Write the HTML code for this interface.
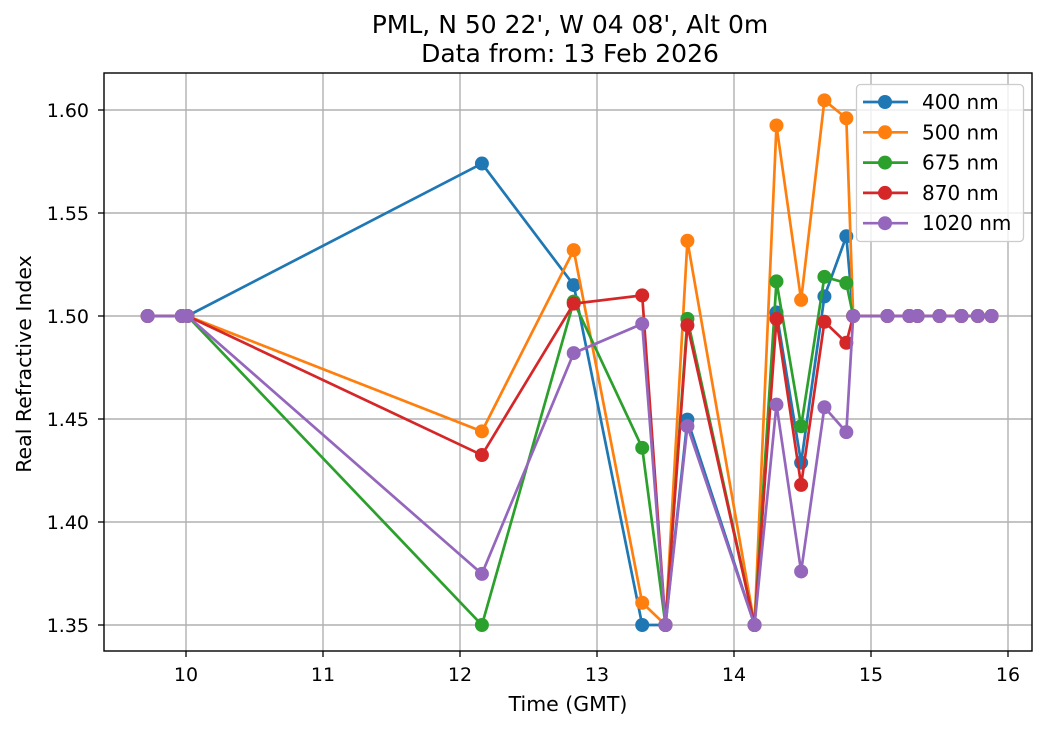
<!DOCTYPE html>
<html><head><meta charset="utf-8"><style>
body{margin:0;background:#fff;}
svg text{font-family:"DejaVu Sans","Liberation Sans",sans-serif;fill:#000;}
</style></head><body>
<svg id="chart" width="1049" height="729" xmlns="http://www.w3.org/2000/svg">
<rect width="1049" height="729" fill="#fff"/>
<text x="570" y="33" font-size="25" text-anchor="middle">PML, N 50 22', W 04 08', Alt 0m</text>
<text x="570" y="62" font-size="25" text-anchor="middle">Data from: 13 Feb 2026</text>
<g id="grid"></g><g id="series"></g><g id="axes"></g><g id="legend"></g>
<text x="568" y="711" font-size="20.5" text-anchor="middle">Time (GMT)</text>
<text transform="translate(31,364) rotate(-90)" font-size="20.5" text-anchor="middle">Real Refractive Index</text>
</svg>
<script>
const times = [9.72,9.97,10.01,12.16,12.83,13.33,13.50,13.66,14.15,14.31,14.49,14.66,14.82,14.87,15.12,15.28,15.34,15.50,15.66,15.78,15.88];
const tail = [1.5,1.5,1.5,1.5,1.5,1.5,1.5,1.5];
const s400  = [1.5,1.5,1.5,1.574,1.515,1.35,1.35,1.4497,1.35,1.5017,1.4288,1.5095,1.5387,...tail];
const s500  = [1.5,1.5,1.5,1.444,1.532,1.3608,1.35,1.5365,1.35,1.5925,1.5078,1.6047,1.596,...tail];
const s675  = [1.5,1.5,1.5,1.35,1.507,1.436,1.35,1.4986,1.35,1.5168,1.4465,1.519,1.516,...tail];
const s870  = [1.5,1.5,1.5,1.4325,1.506,1.510,1.35,1.4955,1.35,1.4986,1.418,1.4972,1.487,...tail];
const s1020 = [1.5,1.5,1.5,1.3748,1.482,1.4962,1.35,1.4465,1.35,1.457,1.376,1.4557,1.4436,...tail];
const seriesNames = ["400 nm","500 nm","675 nm","870 nm","1020 nm"];
const xTicks = [10,11,12,13,14,15,16];
const yTicks = [1.35,1.40,1.45,1.50,1.55,1.60];

const NS="http://www.w3.org/2000/svg";
const L=104,R=1032,T=73,B=651;
const X=h=>186+(h-10)*137;
const Y=v=>625-(v-1.35)/0.05*103;
function mk(tag,attrs,parent){const e=document.createElementNS(NS,tag);for(const k in attrs)e.setAttribute(k,attrs[k]);parent.appendChild(e);return e;}
const grid=document.getElementById('grid'),axes=document.getElementById('axes'),ser=document.getElementById('series'),leg=document.getElementById('legend');
xTicks.forEach(t=>{const x=X(t);
 const g=mk('line',{x1:x,x2:x,y1:T,y2:B,stroke:'#b0b0b0','stroke-width':1.4},grid);
 
 
 mk('line',{x1:x,x2:x,y1:B,y2:B+6,stroke:'#000','stroke-width':1.3},axes);
 const tx=mk('text',{x:x,y:B+30,'font-size':19,'text-anchor':'middle'},axes);tx.textContent=t;
 
 
});
yTicks.forEach(t=>{const y=Y(t);
 const g=mk('line',{x1:L,x2:R,y1:y,y2:y,stroke:'#b0b0b0','stroke-width':1.4},grid);
 
 
 mk('line',{x1:L-6,x2:L,y1:y,y2:y,stroke:'#000','stroke-width':1.3},axes);
 const tx=mk('text',{x:L-15,y:y+7,'font-size':19,'text-anchor':'end'},axes);tx.textContent=t.toFixed(2);
 
 
});
const frame=mk('rect',{x:L,y:T,width:R-L,height:B-T,fill:'none',stroke:'#000','stroke-width':1.4},axes);


const colors=['#1f77b4','#ff7f0e','#2ca02c','#d62728','#9467bd'];
[s400,s500,s675,s870,s1020].forEach((s,i)=>{
 const g=mk('g',{},ser);
 
 
 mk('polyline',{points:s.map((v,j)=>X(times[j])+','+Y(v)).join(' '),fill:'none',stroke:colors[i],'stroke-width':2.7},g);
 s.forEach((v,j)=>{const c=mk('circle',{cx:X(times[j]),cy:Y(v),r:7,fill:colors[i]},g);
  
  });
});
const lb=mk('rect',{x:856.5,y:84.5,width:167,height:157,rx:4,fill:'#fff','fill-opacity':0.8,stroke:'#ccc','stroke-width':1.3},leg);


seriesNames.forEach((n,i)=>{const y=102+i*30.3;
 const g=mk('g',{},leg);
 
 
 mk('line',{x1:863,x2:908,y1:y,y2:y,stroke:colors[i],'stroke-width':2.7},g);
 mk('circle',{cx:885,cy:y,r:7,fill:colors[i]},g);
 const t=mk('text',{x:922,y:y+7,'font-size':20},g);t.textContent=n;
});
</script>
</body></html>
